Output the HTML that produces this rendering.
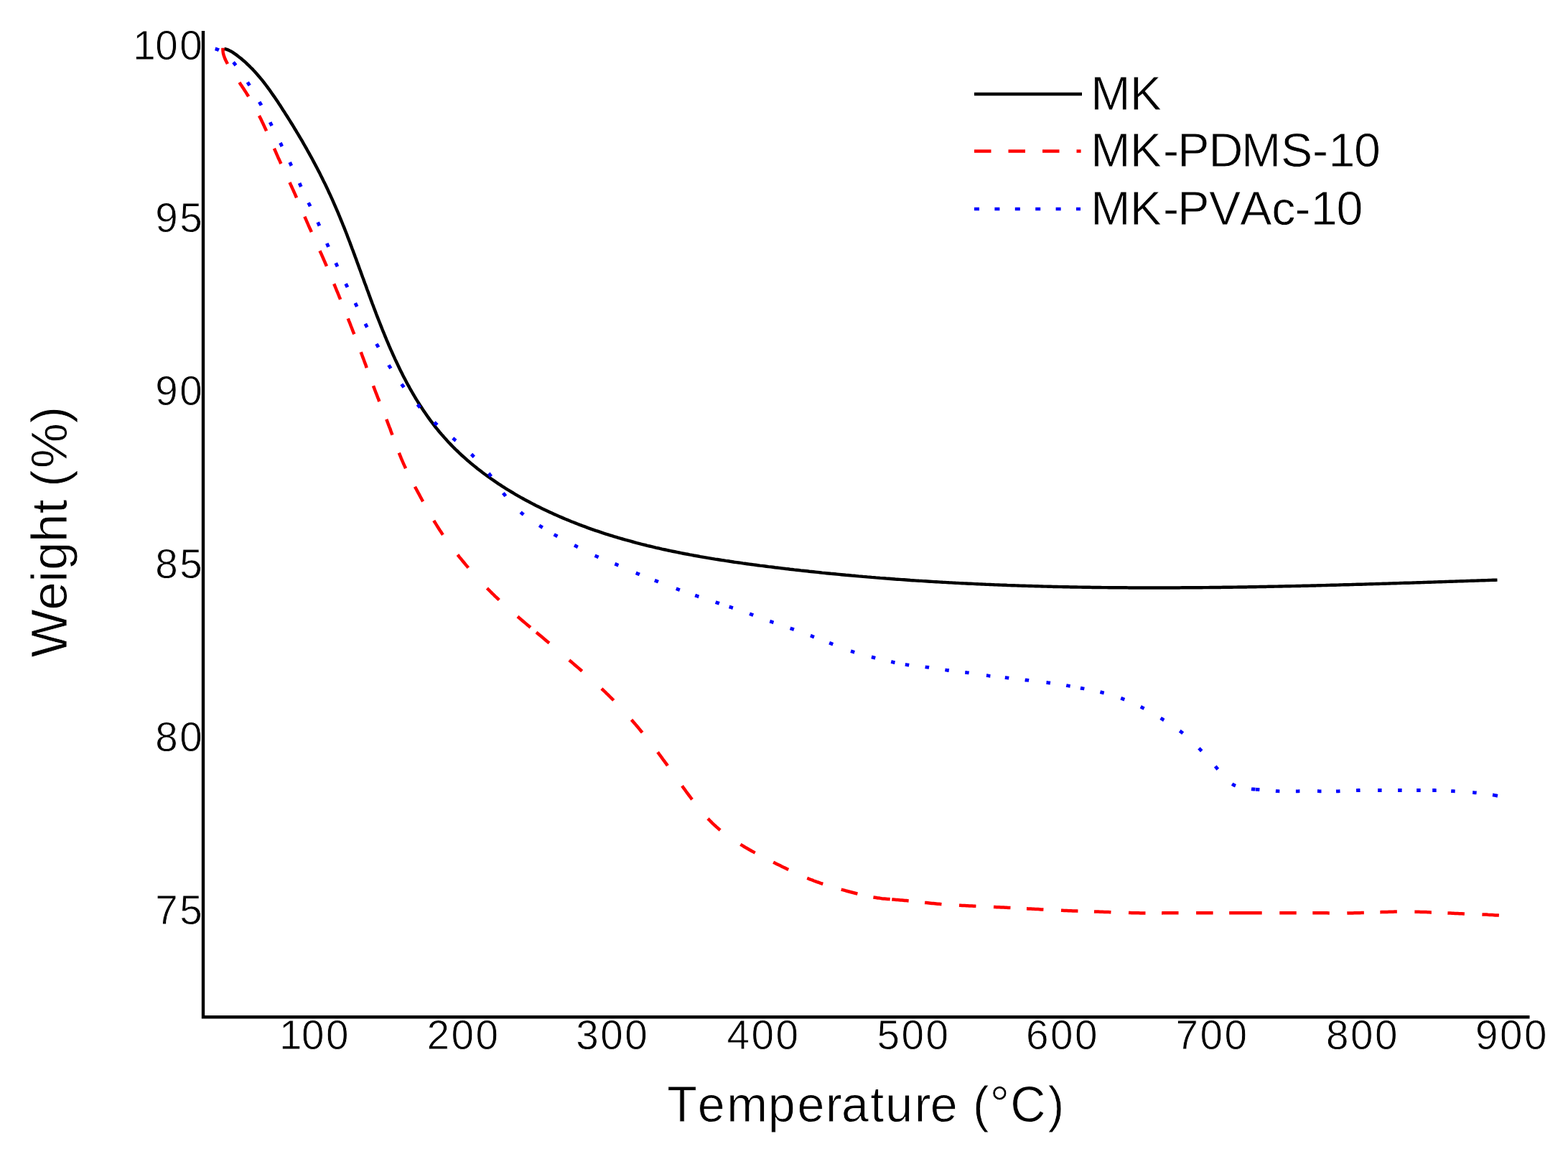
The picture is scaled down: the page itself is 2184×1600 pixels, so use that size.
<!DOCTYPE html>
<html><head><meta charset="utf-8"><title>TGA curves</title>
<style>html,body{margin:0;padding:0;background:#fff;overflow:hidden;}svg{display:block;}text{stroke:#fff;stroke-width:0.8px;}</style>
</head><body>
<svg width="2184" height="1600" viewBox="0 0 2184 1600">
<rect width="2184" height="1600" fill="#fff"/>
<path d="M283,43 V1416.2 H2130.5" fill="none" stroke="#000" stroke-width="4.4" stroke-linejoin="miter"/>
<path d="M312.3,67.8 315.2,68.6 318.1,69.7 320.8,71.0 323.4,72.4 325.9,74.1 328.4,75.8 330.8,77.6 333.1,79.5 335.5,81.3 337.8,83.3 340.1,85.2 342.3,87.2 344.5,89.3 346.7,91.4 348.8,93.5 351.0,95.6 353.0,97.8 355.1,100.0 357.1,102.2 359.1,104.5 361.0,106.8 363.0,109.1 364.9,111.4 366.7,113.7 368.6,116.1 370.4,118.5 372.2,120.9 374.0,123.3 375.8,125.8 377.5,128.2 379.2,130.7 380.9,133.1 382.6,135.6 384.3,138.1 386.0,140.6 387.7,143.1 389.3,145.6 391.0,148.1 392.6,150.7 394.2,153.2 395.9,155.7 397.5,158.3 399.1,160.8 400.7,163.3 402.3,165.9 403.9,168.4 405.5,171.0 407.1,173.5 408.7,176.1 410.2,178.7 411.8,181.2 413.3,183.8 414.9,186.4 416.4,189.0 418.0,191.6 419.5,194.1 421.0,196.7 422.5,199.3 424.0,202.0 425.5,204.6 427.0,207.2 428.4,209.8 429.9,212.4 431.4,215.1 432.8,217.7 434.3,220.3 435.7,223.0 437.1,225.6 438.5,228.3 439.9,230.9 441.3,233.6 442.7,236.3 444.1,238.9 445.5,241.6 446.8,244.3 448.2,247.0 449.5,249.7 450.8,252.4 452.2,255.1 453.5,257.8 454.8,260.5 456.1,263.2 457.3,265.9 458.6,268.7 459.9,271.4 461.1,274.1 462.4,276.9 463.6,279.6 464.8,282.3 466.0,285.1 467.2,287.9 468.4,290.6 469.6,293.4 470.8,296.1 471.9,298.9 473.1,301.7 474.2,304.5 475.4,307.3 476.5,310.0 477.6,312.8 478.8,315.6 479.9,318.4 481.0,321.2 482.1,324.0 483.2,326.8 484.2,329.6 485.3,332.4 486.4,335.2 487.5,338.0 488.5,340.9 489.6,343.7 490.6,346.5 491.7,349.3 492.7,352.1 493.8,354.9 494.8,357.8 495.9,360.6 496.9,363.4 497.9,366.2 499.0,369.1 500.0,371.9 501.0,374.7 502.1,377.5 503.1,380.4 504.1,383.2 505.1,386.0 506.2,388.8 507.2,391.7 508.2,394.5 509.3,397.3 510.3,400.1 511.3,403.0 512.4,405.8 513.4,408.6 514.4,411.4 515.5,414.2 516.5,417.1 517.6,419.9 518.6,422.7 519.7,425.5 520.7,428.3 521.8,431.1 522.9,434.0 523.9,436.8 525.0,439.6 526.1,442.4 527.2,445.2 528.3,448.0 529.4,450.8 530.5,453.6 531.6,456.4 532.7,459.2 533.8,461.9 535.0,464.7 536.1,467.5 537.3,470.3 538.4,473.1 539.6,475.8 540.8,478.6 541.9,481.4 543.1,484.1 544.3,486.9 545.6,489.6 546.8,492.4 548.0,495.1 549.3,497.9 550.5,500.6 551.8,503.3 553.1,506.0 554.4,508.7 555.7,511.5 557.0,514.2 558.3,516.9 559.7,519.5 561.0,522.2 562.4,524.9 563.8,527.6 565.2,530.2 566.6,532.9 568.0,535.5 569.5,538.2 570.9,540.8 572.4,543.4 573.9,546.0 575.4,548.6 576.9,551.2 578.5,553.8 580.0,556.4 581.6,558.9 583.2,561.5 584.8,564.0 586.5,566.5 588.1,569.0 589.8,571.6 591.5,574.0 593.2,576.5 594.9,579.0 596.6,581.4 598.4,583.9 600.2,586.3 602.0,588.7 603.8,591.1 605.7,593.5 607.5,595.8 609.4,598.2 611.3,600.5 613.2,602.8 615.2,605.1 617.2,607.3 619.2,609.6 621.2,611.8 623.2,614.1 625.2,616.3 627.3,618.4 629.4,620.6 631.5,622.7 633.6,624.9 635.8,627.0 638.0,629.0 640.1,631.1 642.3,633.2 644.6,635.2 646.8,637.2 649.0,639.2 651.3,641.2 653.6,643.1 655.9,645.1 658.2,647.0 660.5,648.9 662.9,650.8 665.2,652.7 667.6,654.5 670.0,656.3 672.4,658.2 674.8,660.0 677.2,661.7 679.6,663.5 682.1,665.3 684.5,667.0 687.0,668.7 689.5,670.4 692.0,672.1 694.5,673.8 697.0,675.4 699.5,677.1 702.0,678.7 704.6,680.3 707.1,681.9 709.7,683.4 712.3,685.0 714.9,686.5 717.4,688.1 720.0,689.6 722.7,691.1 725.3,692.6 727.9,694.0 730.5,695.5 733.2,696.9 735.8,698.3 738.5,699.7 741.1,701.1 743.8,702.5 746.5,703.9 749.2,705.2 751.9,706.6 754.6,707.9 757.3,709.2 760.0,710.5 762.7,711.8 765.4,713.1 768.2,714.3 770.9,715.6 773.6,716.8 776.4,718.0 779.1,719.2 781.9,720.4 784.7,721.6 787.4,722.8 790.2,723.9 793.0,725.0 795.8,726.2 798.6,727.3 801.4,728.4 804.2,729.5 807.0,730.6 809.8,731.6 812.6,732.7 815.4,733.7 818.3,734.8 821.1,735.8 823.9,736.8 826.8,737.8 829.6,738.8 832.4,739.7 835.3,740.7 838.1,741.6 841.0,742.6 843.9,743.5 846.7,744.4 849.6,745.3 852.5,746.2 855.3,747.1 858.2,747.9 861.1,748.8 864.0,749.7 866.9,750.5 869.8,751.3 872.7,752.1 875.6,752.9 878.5,753.7 881.4,754.5 884.3,755.3 887.2,756.1 890.1,756.8 893.0,757.6 895.9,758.3 898.8,759.0 901.7,759.8 904.7,760.5 907.6,761.2 910.5,761.9 913.4,762.6 916.4,763.2 919.3,763.9 922.2,764.6 925.2,765.2 928.1,765.8 931.1,766.5 934.0,767.1 936.9,767.7 939.9,768.3 942.8,768.9 945.8,769.5 948.7,770.1 951.7,770.7 954.6,771.3 957.6,771.8 960.5,772.4 963.5,772.9 966.4,773.5 969.4,774.0 972.4,774.5 975.3,775.1 978.3,775.6 981.3,776.1 984.2,776.6 987.2,777.1 990.1,777.6 993.1,778.1 996.1,778.6 999.1,779.0 1002.0,779.5 1005.0,780.0 1008.0,780.4 1010.9,780.9 1013.9,781.3 1016.9,781.8 1019.9,782.2 1022.8,782.7 1025.8,783.1 1028.8,783.5 1031.8,783.9 1034.7,784.4 1037.7,784.8 1040.7,785.2 1043.7,785.6 1046.7,786.0 1049.6,786.4 1052.6,786.8 1055.6,787.2 1058.6,787.6 1061.6,787.9 1064.5,788.3 1067.5,788.7 1070.5,789.1 1073.5,789.4 1076.5,789.8 1079.5,790.2 1082.4,790.5 1085.4,790.9 1088.4,791.3 1091.4,791.6 1094.4,792.0 1097.4,792.3 1100.4,792.7 1103.3,793.0 1106.3,793.4 1109.3,793.7 1112.3,794.0 1115.3,794.4 1118.3,794.7 1121.3,795.0 1124.3,795.3 1127.3,795.7 1130.2,796.0 1133.2,796.3 1136.2,796.6 1139.2,796.9 1142.2,797.2 1145.2,797.6 1148.2,797.9 1151.2,798.2 1154.2,798.5 1157.2,798.8 1160.2,799.0 1163.1,799.3 1166.1,799.6 1169.1,799.9 1172.1,800.2 1175.1,800.5 1178.1,800.8 1181.1,801.0 1184.1,801.3 1187.1,801.6 1190.1,801.8 1193.1,802.1 1196.1,802.4 1199.1,802.6 1202.1,802.9 1205.1,803.1 1208.1,803.4 1211.1,803.6 1214.1,803.9 1217.1,804.1 1220.1,804.4 1223.0,804.6 1226.0,804.9 1229.0,805.1 1232.0,805.3 1235.0,805.6 1238.0,805.8 1241.0,806.0 1244.0,806.2 1247.0,806.5 1250.0,806.7 1253.0,806.9 1256.0,807.1 1259.0,807.3 1262.0,807.5 1265.0,807.7 1268.0,808.0 1271.0,808.2 1274.0,808.4 1277.0,808.6 1280.0,808.8 1283.0,808.9 1286.0,809.1 1289.0,809.3 1292.0,809.5 1295.0,809.7 1298.0,809.9 1301.0,810.1 1304.0,810.2 1307.0,810.4 1310.0,810.6 1313.0,810.8 1316.0,810.9 1319.0,811.1 1322.0,811.3 1325.0,811.4 1328.1,811.6 1331.1,811.8 1334.1,811.9 1337.1,812.1 1340.1,812.2 1343.1,812.4 1346.1,812.5 1349.1,812.7 1352.1,812.8 1355.1,812.9 1358.1,813.1 1361.1,813.2 1364.1,813.4 1367.1,813.5 1370.1,813.6 1373.1,813.8 1376.1,813.9 1379.1,814.0 1382.1,814.1 1385.1,814.3 1388.1,814.4 1391.1,814.5 1394.1,814.6 1397.1,814.7 1400.1,814.8 1403.1,815.0 1406.2,815.1 1409.2,815.2 1412.2,815.3 1415.2,815.4 1418.2,815.5 1421.2,815.6 1424.2,815.7 1427.2,815.8 1430.2,815.9 1433.2,816.0 1436.2,816.0 1439.2,816.1 1442.2,816.2 1445.2,816.3 1448.2,816.4 1451.2,816.5 1454.2,816.6 1457.2,816.6 1460.2,816.7 1463.3,816.8 1466.3,816.9 1469.3,816.9 1472.3,817.0 1475.3,817.1 1478.3,817.1 1481.3,817.2 1484.3,817.2 1487.3,817.3 1490.3,817.4 1493.3,817.4 1496.3,817.5 1499.3,817.5 1502.3,817.6 1505.3,817.6 1508.3,817.7 1511.4,817.7 1514.4,817.8 1517.4,817.8 1520.4,817.9 1523.4,817.9 1526.4,817.9 1529.4,818.0 1532.4,818.0 1535.4,818.1 1538.4,818.1 1541.4,818.1 1544.4,818.2 1547.4,818.2 1550.4,818.2 1553.4,818.2 1556.4,818.3 1559.5,818.3 1562.5,818.3 1565.5,818.3 1568.5,818.3 1571.5,818.4 1574.5,818.4 1577.5,818.4 1580.5,818.4 1583.5,818.4 1586.5,818.4 1589.5,818.4 1592.5,818.4 1595.5,818.4 1598.5,818.5 1601.6,818.5 1604.6,818.5 1607.6,818.5 1610.6,818.5 1613.6,818.5 1616.6,818.5 1619.6,818.4 1622.6,818.4 1625.6,818.4 1628.6,818.4 1631.6,818.4 1634.6,818.4 1637.6,818.4 1640.6,818.4 1643.6,818.4 1646.7,818.3 1649.7,818.3 1652.7,818.3 1655.7,818.3 1658.7,818.3 1661.7,818.3 1664.7,818.2 1667.7,818.2 1670.7,818.2 1673.7,818.2 1676.7,818.1 1679.7,818.1 1682.7,818.1 1685.7,818.0 1688.7,818.0 1691.8,818.0 1694.8,817.9 1697.8,817.9 1700.8,817.9 1703.8,817.8 1706.8,817.8 1709.8,817.8 1712.8,817.7 1715.8,817.7 1718.8,817.6 1721.8,817.6 1724.8,817.5 1727.8,817.5 1730.8,817.4 1733.8,817.4 1736.8,817.4 1739.9,817.3 1742.9,817.3 1745.9,817.2 1748.9,817.2 1751.9,817.1 1754.9,817.0 1757.9,817.0 1760.9,816.9 1763.9,816.9 1766.9,816.8 1769.9,816.8 1772.9,816.7 1775.9,816.6 1778.9,816.6 1781.9,816.5 1784.9,816.5 1788.0,816.4 1791.0,816.3 1794.0,816.3 1797.0,816.2 1800.0,816.1 1803.0,816.1 1806.0,816.0 1809.0,815.9 1812.0,815.9 1815.0,815.8 1818.0,815.7 1821.0,815.7 1824.0,815.6 1827.0,815.5 1830.0,815.4 1833.0,815.4 1836.1,815.3 1839.1,815.2 1842.1,815.1 1845.1,815.1 1848.1,815.0 1851.1,814.9 1854.1,814.8 1857.1,814.7 1860.1,814.7 1863.1,814.6 1866.1,814.5 1869.1,814.4 1872.1,814.3 1875.1,814.3 1878.1,814.2 1881.1,814.1 1884.1,814.0 1887.1,813.9 1890.2,813.8 1893.2,813.7 1896.2,813.7 1899.2,813.6 1902.2,813.5 1905.2,813.4 1908.2,813.3 1911.2,813.2 1914.2,813.1 1917.2,813.0 1920.2,813.0 1923.2,812.9 1926.2,812.8 1929.2,812.7 1932.2,812.6 1935.2,812.5 1938.2,812.4 1941.2,812.3 1944.3,812.2 1947.3,812.1 1950.3,812.0 1953.3,811.9 1956.3,811.8 1959.3,811.8 1962.3,811.7 1965.3,811.6 1968.3,811.5 1971.3,811.4 1974.3,811.3 1977.3,811.2 1980.3,811.1 1983.3,811.0 1986.3,810.9 1989.3,810.8 1992.3,810.7 1995.3,810.6 1998.3,810.5 2001.3,810.4 2004.4,810.3 2007.4,810.2 2010.4,810.1 2013.4,810.0 2016.4,809.9 2019.4,809.8 2022.4,809.7 2025.4,809.6 2028.4,809.5 2031.4,809.4 2034.4,809.3 2037.4,809.2 2040.4,809.1 2043.4,809.0 2046.4,808.9 2049.4,808.8 2052.4,808.7 2055.4,808.6 2058.4,808.5 2061.5,808.4 2064.5,808.3 2067.5,808.2 2070.5,808.1 2073.5,808.0 2076.5,807.9 2079.5,807.8 2082.5,807.7 2085.5,807.6" fill="none" stroke="#000" stroke-width="4.45" stroke-linejoin="round"/>
<path d="M310.5,66.5 310.4,68.5 310.5,70.5 310.7,72.5 311.0,74.5 311.5,76.4 312.1,78.3 312.8,80.2 313.5,82.1 314.4,83.9 315.3,85.7 316.2,87.5 317.1,89.2 318.1,91.0 319.1,92.7 320.1,94.4 321.1,96.1 322.2,97.8 323.3,99.5 324.3,101.2 325.4,102.9 326.5,104.6 327.6,106.3 328.7,107.9 329.9,109.6 331.0,111.2 332.1,112.9 333.2,114.5 334.4,116.2 335.5,117.9 336.6,119.5 337.7,121.2 338.8,122.8 339.9,124.5 341.0,126.2 342.1,127.9 343.2,129.6 344.2,131.3 345.3,133.0 346.3,134.7 347.4,136.4 348.4,138.1 349.4,139.8 350.4,141.6 351.4,143.3 352.4,145.1 353.4,146.8 354.3,148.6 355.3,150.3 356.2,152.1 357.2,153.8 358.1,155.6 359.0,157.4 360.0,159.2 360.9,161.0 361.8,162.7 362.7,164.5 363.6,166.3 364.4,168.1 365.3,169.9 366.2,171.7 367.0,173.5 367.9,175.4 368.7,177.2 369.6,179.0 370.4,180.8 371.2,182.6 372.1,184.5 372.9,186.3 373.7,188.1 374.5,189.9 375.3,191.8 376.1,193.6 376.9,195.4 377.7,197.3 378.5,199.1 379.3,200.9 380.1,202.8 380.9,204.6 381.7,206.4 382.6,208.3 383.4,210.1 384.2,211.9 385.0,213.8 385.8,215.6 386.6,217.4 387.4,219.3 388.2,221.1 389.1,222.9 389.9,224.7 390.7,226.6 391.6,228.4 392.4,230.2 393.3,232.0 394.1,233.8 394.9,235.6 395.8,237.5 396.6,239.3 397.5,241.1 398.3,242.9 399.2,244.7 400.0,246.5 400.8,248.4 401.7,250.2 402.5,252.0 403.4,253.8 404.2,255.6 405.0,257.4 405.9,259.3 406.7,261.1 407.5,262.9 408.4,264.7 409.2,266.6 410.0,268.4 410.8,270.2 411.6,272.0 412.4,273.9 413.2,275.7 414.0,277.5 414.8,279.4 415.6,281.2 416.4,283.1 417.2,284.9 418.0,286.7 418.8,288.6 419.6,290.4 420.4,292.3 421.2,294.1 422.0,295.9 422.8,297.8 423.6,299.6 424.3,301.5 425.1,303.3 425.9,305.1 426.7,307.0 427.5,308.8 428.3,310.6 429.1,312.5 429.9,314.3 430.7,316.1 431.5,318.0 432.4,319.8 433.2,321.6 434.0,323.5 434.8,325.3 435.6,327.1 436.4,328.9 437.2,330.8 438.1,332.6 438.9,334.4 439.7,336.3 440.5,338.1 441.3,339.9 442.2,341.7 443.0,343.6 443.8,345.4 444.6,347.2 445.4,349.1 446.2,350.9 447.1,352.7 447.9,354.5 448.7,356.4 449.5,358.2 450.3,360.0 451.1,361.9 451.9,363.7 452.7,365.5 453.5,367.4 454.3,369.2 455.0,371.1 455.8,372.9 456.6,374.7 457.4,376.6 458.2,378.4 459.0,380.3 459.7,382.1 460.5,384.0 461.3,385.8 462.1,387.7 462.8,389.5 463.6,391.4 464.4,393.2 465.1,395.1 465.9,396.9 466.7,398.8 467.4,400.6 468.2,402.5 468.9,404.3 469.7,406.2 470.5,408.0 471.2,409.9 472.0,411.7 472.7,413.6 473.5,415.4 474.2,417.3 475.0,419.2 475.7,421.0 476.5,422.9 477.2,424.7 478.0,426.6 478.7,428.4 479.5,430.3 480.2,432.2 481.0,434.0 481.7,435.9 482.4,437.7 483.2,439.6 483.9,441.5 484.7,443.3 485.4,445.2 486.1,447.1 486.9,448.9 487.6,450.8 488.3,452.6 489.0,454.5 489.8,456.4 490.5,458.2 491.2,460.1 491.9,462.0 492.7,463.8 493.4,465.7 494.1,467.6 494.8,469.4 495.5,471.3 496.3,473.2 497.0,475.1 497.7,476.9 498.4,478.8 499.1,480.7 499.8,482.5 500.5,484.4 501.2,486.3 501.9,488.2 502.6,490.0 503.3,491.9 504.0,493.8 504.7,495.7 505.4,497.6 506.1,499.4 506.8,501.3 507.5,503.2 508.2,505.1 508.9,506.9 509.6,508.8 510.2,510.7 510.9,512.6 511.6,514.5 512.3,516.4 513.0,518.2 513.7,520.1 514.4,522.0 515.0,523.9 515.7,525.8 516.4,527.6 517.1,529.5 517.8,531.4 518.5,533.3 519.2,535.2 519.9,537.0 520.6,538.9 521.3,540.8 522.0,542.7 522.7,544.5 523.4,546.4 524.2,548.3 524.9,550.1 525.6,552.0 526.3,553.9 527.1,555.7 527.8,557.6 528.5,559.5 529.3,561.3 530.0,563.2 530.8,565.0 531.5,566.9 532.2,568.8 533.0,570.6 533.7,572.5 534.5,574.3 535.2,576.2 535.9,578.1 536.7,579.9 537.4,581.8 538.1,583.6 538.9,585.5 539.6,587.4 540.3,589.2 541.0,591.1 541.7,593.0 542.4,594.9 543.2,596.7 543.9,598.6 544.5,600.5 545.2,602.4 545.9,604.2 546.6,606.1 547.3,608.0 548.0,609.9 548.7,611.8 549.4,613.6 550.1,615.5 550.8,617.4 551.5,619.3 552.2,621.2 552.9,623.0 553.6,624.9 554.3,626.8 555.0,628.6 555.7,630.5 556.5,632.4 557.2,634.2 558.0,636.1 558.7,637.9 559.5,639.8 560.3,641.6 561.1,643.5 561.9,645.3 562.7,647.1 563.5,648.9 564.4,650.8 565.2,652.6 566.1,654.4 567.0,656.2 567.8,658.0 568.7,659.8 569.6,661.6 570.5,663.4 571.4,665.2 572.3,666.9 573.2,668.7 574.1,670.5 575.1,672.3 576.0,674.0 576.9,675.8 577.9,677.6 578.8,679.4 579.8,681.1 580.7,682.9 581.7,684.7 582.6,686.4 583.6,688.2 584.5,689.9 585.5,691.7 586.4,693.5 587.4,695.2 588.3,697.0 589.3,698.7 590.3,700.5 591.2,702.2 592.2,704.0 593.2,705.7 594.1,707.5 595.1,709.2 596.1,711.0 597.1,712.7 598.1,714.5 599.1,716.2 600.1,717.9 601.1,719.6 602.1,721.4 603.2,723.1 604.2,724.8 605.2,726.5 606.3,728.2 607.3,729.9 608.4,731.6 609.4,733.3 610.5,735.0 611.6,736.7 612.7,738.4 613.8,740.0 614.9,741.7 616.0,743.4 617.1,745.0 618.3,746.7 619.4,748.3 620.6,750.0 621.7,751.6 622.9,753.2 624.1,754.9 625.2,756.5 626.4,758.1 627.6,759.7 628.8,761.3 630.0,762.9 631.2,764.5 632.4,766.1 633.6,767.7 634.9,769.3 636.1,770.9 637.3,772.4 638.6,774.0 639.8,775.6 641.1,777.1 642.4,778.7 643.6,780.2 644.9,781.8 646.2,783.3 647.5,784.9 648.7,786.4 650.0,787.9 651.3,789.4 652.6,791.0 653.9,792.5 655.3,794.0 656.6,795.5 657.9,797.0 659.2,798.5 660.6,800.0 661.9,801.5 663.2,803.0 664.6,804.5 665.9,805.9 667.3,807.4 668.7,808.9 670.0,810.3 671.4,811.8 672.8,813.2 674.2,814.7 675.5,816.1 676.9,817.6 678.3,819.0 679.7,820.4 681.2,821.8 682.6,823.3 684.0,824.7 685.4,826.1 686.8,827.5 688.3,828.9 689.7,830.3 691.2,831.7 692.6,833.0 694.1,834.4 695.5,835.8 697.0,837.2 698.5,838.5 699.9,839.9 701.4,841.2 702.9,842.6 704.4,843.9 705.9,845.3 707.3,846.6 708.8,847.9 710.3,849.3 711.8,850.6 713.3,851.9 714.8,853.2 716.4,854.5 717.9,855.9 719.4,857.2 720.9,858.5 722.4,859.8 723.9,861.1 725.5,862.4 727.0,863.7 728.5,865.0 730.0,866.3 731.6,867.6 733.1,868.9 734.6,870.2 736.2,871.4 737.7,872.7 739.2,874.0 740.8,875.3 742.3,876.6 743.8,877.9 745.4,879.1 746.9,880.4 748.5,881.7 750.0,883.0 751.5,884.3 753.1,885.6 754.6,886.8 756.1,888.1 757.7,889.4 759.2,890.7 760.7,892.0 762.3,893.3 763.8,894.6 765.3,895.8 766.9,897.1 768.4,898.4 769.9,899.7 771.5,901.0 773.0,902.3 774.5,903.6 776.1,904.9 777.6,906.2 779.1,907.5 780.6,908.8 782.2,910.1 783.7,911.4 785.2,912.7 786.7,914.0 788.2,915.3 789.8,916.6 791.3,917.9 792.8,919.2 794.3,920.5 795.9,921.8 797.4,923.1 798.9,924.4 800.4,925.7 801.9,927.0 803.4,928.3 805.0,929.6 806.5,930.9 808.0,932.2 809.5,933.5 811.0,934.9 812.5,936.2 814.0,937.5 815.6,938.8 817.1,940.1 818.6,941.4 820.1,942.8 821.6,944.1 823.1,945.4 824.6,946.7 826.1,948.1 827.5,949.4 829.0,950.8 830.5,952.1 832.0,953.4 833.5,954.8 834.9,956.2 836.4,957.5 837.9,958.9 839.3,960.3 840.8,961.6 842.2,963.0 843.7,964.4 845.1,965.8 846.6,967.2 848.0,968.6 849.4,970.0 850.8,971.4 852.3,972.8 853.7,974.2 855.1,975.7 856.5,977.1 857.9,978.5 859.3,980.0 860.6,981.4 862.0,982.9 863.4,984.3 864.8,985.8 866.1,987.3 867.5,988.7 868.8,990.2 870.2,991.7 871.5,993.2 872.9,994.7 874.2,996.2 875.5,997.7 876.8,999.2 878.2,1000.7 879.5,1002.2 880.8,1003.7 882.1,1005.2 883.4,1006.7 884.7,1008.2 886.0,1009.8 887.3,1011.3 888.6,1012.8 889.9,1014.4 891.1,1015.9 892.4,1017.5 893.7,1019.0 895.0,1020.6 896.2,1022.1 897.5,1023.7 898.7,1025.2 900.0,1026.8 901.2,1028.3 902.5,1029.9 903.7,1031.5 905.0,1033.1 906.2,1034.6 907.4,1036.2 908.7,1037.8 909.9,1039.4 911.1,1041.0 912.3,1042.6 913.5,1044.1 914.8,1045.7 916.0,1047.3 917.2,1048.9 918.4,1050.5 919.6,1052.1 920.8,1053.7 922.0,1055.4 923.1,1057.0 924.3,1058.6 925.5,1060.2 926.7,1061.8 927.9,1063.4 929.1,1065.1 930.2,1066.7 931.4,1068.3 932.6,1069.9 933.7,1071.6 934.9,1073.2 936.1,1074.8 937.2,1076.4 938.4,1078.1 939.6,1079.7 940.7,1081.3 941.9,1083.0 943.1,1084.6 944.2,1086.2 945.4,1087.8 946.5,1089.5 947.7,1091.1 948.9,1092.7 950.1,1094.3 951.2,1096.0 952.4,1097.6 953.6,1099.2 954.7,1100.8 955.9,1102.5 957.1,1104.1 958.3,1105.7 959.5,1107.3 960.7,1108.9 961.9,1110.5 963.1,1112.1 964.3,1113.7 965.5,1115.3 966.7,1116.9 967.9,1118.5 969.1,1120.1 970.4,1121.6 971.6,1123.2 972.9,1124.8 974.1,1126.3 975.4,1127.9 976.7,1129.4 978.0,1130.9 979.3,1132.5 980.6,1134.0 982.0,1135.5 983.3,1136.9 984.6,1138.4 986.0,1139.9 987.4,1141.3 988.8,1142.8 990.2,1144.2 991.6,1145.6 993.1,1147.0 994.5,1148.4 996.0,1149.7 997.5,1151.1 999.0,1152.4 1000.5,1153.7 1002.0,1155.0 1003.6,1156.3 1005.1,1157.5 1006.7,1158.8 1008.3,1160.0 1009.9,1161.2 1011.5,1162.4 1013.1,1163.6 1014.7,1164.8 1016.3,1166.0 1018.0,1167.1 1019.6,1168.2 1021.3,1169.4 1022.9,1170.5 1024.6,1171.6 1026.3,1172.7 1028.0,1173.7 1029.7,1174.8 1031.4,1175.9 1033.1,1176.9 1034.8,1177.9 1036.5,1179.0 1038.2,1180.0 1040.0,1181.0 1041.7,1182.0 1043.4,1183.0 1045.2,1184.0 1046.9,1185.0 1048.7,1185.9 1050.4,1186.9 1052.2,1187.9 1053.9,1188.8 1055.7,1189.7 1057.5,1190.7 1059.3,1191.6 1061.0,1192.5 1062.8,1193.5 1064.6,1194.4 1066.4,1195.3 1068.1,1196.2 1069.9,1197.1 1071.7,1198.0 1073.5,1198.9 1075.3,1199.8 1077.1,1200.7 1078.9,1201.6 1080.7,1202.5 1082.5,1203.4 1084.3,1204.2 1086.1,1205.1 1087.9,1206.0 1089.7,1206.9 1091.5,1207.8 1093.3,1208.6 1095.1,1209.5 1096.9,1210.4 1098.7,1211.2 1100.5,1212.1 1102.3,1213.0 1104.1,1213.8 1105.9,1214.7 1107.8,1215.5 1109.6,1216.3 1111.4,1217.2 1113.2,1218.0 1115.0,1218.8 1116.9,1219.6 1118.7,1220.4 1120.6,1221.2 1122.4,1222.0 1124.2,1222.8 1126.1,1223.5 1127.9,1224.3 1129.8,1225.0 1131.7,1225.7 1133.5,1226.5 1135.4,1227.2 1137.3,1227.9 1139.2,1228.5 1141.1,1229.2 1143.0,1229.9 1144.9,1230.5 1146.8,1231.1 1148.7,1231.8 1150.6,1232.4 1152.5,1233.0 1154.4,1233.6 1156.3,1234.2 1158.2,1234.7 1160.1,1235.3 1162.1,1235.9 1164.0,1236.4 1165.9,1237.0 1167.8,1237.5 1169.8,1238.1 1171.7,1238.6 1173.6,1239.1 1175.6,1239.6 1177.5,1240.2 1179.4,1240.7 1181.4,1241.2 1183.3,1241.7 1185.2,1242.2 1187.2,1242.7 1189.1,1243.2 1191.0,1243.7 1193.0,1244.2 1194.9,1244.7 1196.9,1245.2 1198.8,1245.7 1200.8,1246.1 1202.7,1246.6 1204.7,1247.0 1206.6,1247.4 1208.6,1247.9 1210.5,1248.3 1212.5,1248.6 1214.5,1249.0 1216.4,1249.4 1218.4,1249.7 1220.4,1250.0 1222.4,1250.4 1224.4,1250.6 1226.3,1250.9 1228.3,1251.2 1230.3,1251.4 1232.3,1251.6 1234.3,1251.8 1236.3,1252.0 1238.3,1252.1 1240.3,1252.3 1242.3,1252.5 1244.3,1252.6 1246.3,1252.7 1248.3,1252.9 1250.3,1253.0 1252.3,1253.2 1254.3,1253.4 1256.3,1253.5 1258.3,1253.7 1260.2,1253.9 1262.2,1254.1 1264.2,1254.3 1266.2,1254.5 1268.2,1254.7 1270.2,1254.9 1272.2,1255.1 1274.2,1255.3 1276.2,1255.5 1278.2,1255.8 1280.2,1256.0 1282.1,1256.2 1284.1,1256.4 1286.1,1256.7 1288.1,1256.9 1290.1,1257.1 1292.1,1257.3 1294.1,1257.5 1296.1,1257.7 1298.1,1257.9 1300.1,1258.1 1302.1,1258.3 1304.1,1258.5 1306.1,1258.7 1308.0,1258.8 1310.0,1259.0 1312.0,1259.2 1314.0,1259.3 1316.0,1259.5 1318.0,1259.6 1320.0,1259.7 1322.0,1259.9 1324.0,1260.0 1326.0,1260.1 1328.0,1260.3 1330.0,1260.4 1332.0,1260.5 1334.0,1260.6 1336.0,1260.7 1338.0,1260.8 1340.0,1260.9 1342.0,1261.0 1344.0,1261.1 1346.0,1261.2 1348.0,1261.3 1350.0,1261.4 1352.0,1261.5 1354.0,1261.6 1356.0,1261.7 1358.0,1261.8 1360.0,1261.9 1362.0,1262.0 1364.0,1262.1 1366.0,1262.2 1368.0,1262.3 1370.0,1262.3 1372.0,1262.4 1374.0,1262.5 1376.0,1262.6 1378.0,1262.7 1380.0,1262.8 1382.0,1262.9 1384.0,1263.0 1386.0,1263.1 1388.0,1263.2 1390.0,1263.2 1392.0,1263.3 1394.0,1263.4 1396.0,1263.5 1398.0,1263.6 1400.0,1263.7 1402.0,1263.8 1404.0,1263.9 1406.0,1264.0 1408.0,1264.1 1410.0,1264.2 1412.0,1264.3 1414.0,1264.4 1416.0,1264.5 1418.0,1264.6 1420.0,1264.8 1422.0,1264.9 1424.0,1265.0 1426.0,1265.1 1428.0,1265.2 1430.0,1265.3 1432.0,1265.4 1434.0,1265.5 1436.0,1265.6 1438.0,1265.7 1440.0,1265.8 1442.0,1265.9 1444.0,1266.0 1446.0,1266.1 1448.0,1266.2 1450.0,1266.4 1452.0,1266.5 1454.0,1266.6 1456.0,1266.7 1458.0,1266.8 1460.0,1266.9 1462.0,1267.0 1464.0,1267.1 1466.0,1267.2 1468.0,1267.3 1470.0,1267.4 1472.0,1267.5 1474.0,1267.5 1476.0,1267.6 1478.0,1267.7 1480.0,1267.8 1482.0,1267.9 1484.0,1268.0 1486.0,1268.1 1488.0,1268.2 1490.0,1268.2 1492.0,1268.3 1494.0,1268.4 1496.0,1268.5 1498.0,1268.5 1500.0,1268.6 1502.0,1268.7 1504.0,1268.7 1506.0,1268.8 1508.0,1268.9 1510.0,1269.0 1512.0,1269.0 1514.0,1269.1 1516.0,1269.1 1518.0,1269.2 1520.0,1269.3 1522.0,1269.3 1524.0,1269.4 1526.0,1269.5 1528.0,1269.5 1530.0,1269.6 1532.0,1269.7 1534.0,1269.8 1536.0,1269.8 1538.0,1269.9 1540.0,1270.0 1542.0,1270.0 1544.0,1270.1 1546.0,1270.2 1548.0,1270.3 1550.0,1270.3 1552.0,1270.4 1554.0,1270.5 1556.0,1270.6 1558.0,1270.6 1560.0,1270.7 1562.0,1270.8 1564.0,1270.8 1566.0,1270.9 1568.1,1270.9 1570.1,1271.0 1572.1,1271.1 1574.1,1271.1 1576.1,1271.2 1578.1,1271.2 1580.1,1271.2 1582.1,1271.3 1584.1,1271.3 1586.1,1271.3 1588.1,1271.4 1590.1,1271.4 1592.1,1271.4 1594.1,1271.4 1596.1,1271.4 1598.1,1271.4 1600.1,1271.4 1602.1,1271.4 1604.1,1271.4 1606.1,1271.4 1608.1,1271.4 1610.1,1271.4 1612.1,1271.4 1614.1,1271.4 1616.1,1271.4 1618.1,1271.4 1620.1,1271.3 1622.1,1271.3 1624.1,1271.3 1626.1,1271.3 1628.1,1271.3 1630.1,1271.3 1632.1,1271.3 1634.1,1271.3 1636.1,1271.3 1638.1,1271.3 1640.1,1271.3 1642.1,1271.3 1644.1,1271.3 1646.1,1271.3 1648.1,1271.3 1650.1,1271.3 1652.1,1271.3 1654.1,1271.3 1656.1,1271.3 1658.2,1271.3 1660.2,1271.3 1662.2,1271.3 1664.2,1271.3 1666.2,1271.3 1668.2,1271.3 1670.2,1271.3 1672.2,1271.3 1674.2,1271.3 1676.2,1271.3 1678.2,1271.3 1680.2,1271.3 1682.2,1271.3 1684.2,1271.3 1686.2,1271.3 1688.2,1271.3 1690.2,1271.3 1692.2,1271.3 1694.2,1271.3 1696.2,1271.3 1698.2,1271.3 1700.2,1271.3 1702.2,1271.3 1704.2,1271.3 1706.2,1271.3 1708.2,1271.3 1710.2,1271.3 1712.2,1271.3 1714.2,1271.3 1716.2,1271.3 1718.2,1271.3 1720.2,1271.3 1722.2,1271.3 1724.2,1271.3 1726.2,1271.3 1728.2,1271.3 1730.2,1271.3 1732.2,1271.3 1734.2,1271.3 1736.2,1271.3 1738.2,1271.3 1740.2,1271.3 1742.2,1271.3 1744.2,1271.3 1746.3,1271.3 1748.3,1271.3 1750.3,1271.3 1752.3,1271.3 1754.3,1271.3 1756.3,1271.3 1758.3,1271.3 1760.3,1271.3 1762.3,1271.3 1764.3,1271.3 1766.3,1271.3 1768.3,1271.3 1770.3,1271.3 1772.3,1271.3 1774.3,1271.3 1776.3,1271.3 1778.3,1271.3 1780.3,1271.3 1782.3,1271.3 1784.3,1271.3 1786.3,1271.3 1788.3,1271.3 1790.3,1271.3 1792.3,1271.3 1794.3,1271.3 1796.3,1271.3 1798.3,1271.3 1800.3,1271.3 1802.3,1271.3 1804.3,1271.3 1806.3,1271.3 1808.3,1271.3 1810.3,1271.3 1812.3,1271.3 1814.3,1271.3 1816.3,1271.3 1818.3,1271.3 1820.3,1271.3 1822.3,1271.3 1824.3,1271.3 1826.3,1271.3 1828.3,1271.3 1830.3,1271.3 1832.4,1271.3 1834.4,1271.3 1836.4,1271.3 1838.4,1271.3 1840.4,1271.3 1842.4,1271.3 1844.4,1271.3 1846.4,1271.3 1848.4,1271.3 1850.4,1271.4 1852.4,1271.4 1854.4,1271.4 1856.4,1271.4 1858.4,1271.4 1860.4,1271.4 1862.4,1271.4 1864.4,1271.5 1866.4,1271.5 1868.4,1271.5 1870.4,1271.5 1872.4,1271.5 1874.4,1271.5 1876.4,1271.4 1878.4,1271.4 1880.4,1271.4 1882.4,1271.4 1884.4,1271.4 1886.4,1271.3 1888.4,1271.3 1890.4,1271.3 1892.4,1271.2 1894.4,1271.2 1896.4,1271.1 1898.4,1271.0 1900.4,1271.0 1902.4,1270.9 1904.4,1270.8 1906.4,1270.8 1908.4,1270.7 1910.4,1270.6 1912.4,1270.5 1914.4,1270.5 1916.4,1270.4 1918.4,1270.3 1920.4,1270.2 1922.4,1270.2 1924.4,1270.1 1926.4,1270.0 1928.4,1270.0 1930.4,1269.9 1932.4,1269.9 1934.4,1269.8 1936.4,1269.8 1938.4,1269.7 1940.4,1269.7 1942.5,1269.6 1944.5,1269.6 1946.5,1269.6 1948.5,1269.6 1950.5,1269.6 1952.5,1269.6 1954.5,1269.5 1956.5,1269.5 1958.5,1269.6 1960.5,1269.6 1962.5,1269.6 1964.5,1269.6 1966.5,1269.6 1968.5,1269.7 1970.5,1269.7 1972.5,1269.7 1974.5,1269.8 1976.5,1269.8 1978.5,1269.9 1980.5,1269.9 1982.5,1270.0 1984.5,1270.0 1986.5,1270.1 1988.5,1270.2 1990.5,1270.3 1992.5,1270.4 1994.5,1270.4 1996.5,1270.5 1998.5,1270.6 2000.5,1270.7 2002.5,1270.8 2004.5,1270.9 2006.5,1271.0 2008.5,1271.1 2010.5,1271.2 2012.5,1271.3 2014.5,1271.4 2016.5,1271.5 2018.5,1271.6 2020.5,1271.6 2022.5,1271.7 2024.5,1271.8 2026.5,1271.9 2028.5,1272.0 2030.5,1272.1 2032.5,1272.2 2034.5,1272.2 2036.5,1272.3 2038.5,1272.4 2040.5,1272.5 2042.5,1272.5 2044.5,1272.6 2046.5,1272.7 2048.5,1272.7 2050.5,1272.8 2052.5,1272.9 2054.5,1273.0 2056.5,1273.0 2058.5,1273.1 2060.5,1273.2 2062.5,1273.3 2064.5,1273.4 2066.5,1273.5 2068.5,1273.6 2070.5,1273.6 2072.5,1273.8 2074.5,1273.9 2076.5,1274.0 2078.5,1274.1 2080.5,1274.2 2082.5,1274.4 2084.5,1274.5 2086.5,1274.6 2088.5,1274.8" fill="none" stroke="#ff0000" stroke-width="4.5" stroke-dasharray="0.00,0.26,23.50,30.56,23.50,30.56,23.50,26.56,23.50,28.56,23.50,28.56,23.50,28.56,23.50,26.56,23.50,28.56,23.50,26.56,23.50,26.56,23.50,26.56,23.50,26.56,23.50,28.56,23.50,30.56,23.50,34.57,23.50,38.57,23.50,34.57,23.50,10.54,23.50,36.57,23.50,36.57,23.50,36.57,23.50,34.57,23.50,34.57,23.50,34.57,23.50,34.57,23.50,28.56,23.50,28.56,23.50,26.56,23.50,22.55,23.50,2.53,23.50,22.55,23.50,24.56,23.50,24.56,23.50,22.55,23.50,24.56,23.50,22.55,23.50,24.56,23.50,22.55,23.50,24.56,23.50,22.55,23.50,0.00,22.03,24.56,23.50,22.55,23.50,24.56,23.50,22.55,23.50,24.56,23.50,22.55,23.50,24.56,23.50,10000.00"/>
<path d="M298.5,67.6 300.4,68.1 302.4,68.7 304.2,69.4 306.0,70.3 307.8,71.2 309.5,72.2 311.2,73.3 312.8,74.5 314.4,75.8 315.9,77.1 317.4,78.4 318.8,79.8 320.2,81.2 321.6,82.7 322.9,84.2 324.2,85.7 325.5,87.2 326.8,88.8 328.0,90.4 329.3,91.9 330.5,93.5 331.7,95.1 332.9,96.8 334.0,98.4 335.2,100.0 336.3,101.7 337.5,103.3 338.6,105.0 339.7,106.6 340.8,108.3 341.9,110.0 343.0,111.7 344.1,113.4 345.1,115.0 346.2,116.7 347.3,118.4 348.3,120.1 349.4,121.8 350.4,123.5 351.5,125.3 352.5,127.0 353.6,128.7 354.6,130.4 355.6,132.1 356.6,133.9 357.6,135.6 358.6,137.3 359.6,139.1 360.6,140.8 361.6,142.5 362.6,144.3 363.6,146.0 364.5,147.8 365.5,149.6 366.4,151.3 367.4,153.1 368.3,154.9 369.2,156.6 370.1,158.4 371.1,160.2 372.0,162.0 372.9,163.8 373.8,165.6 374.7,167.3 375.6,169.1 376.5,170.9 377.4,172.7 378.3,174.5 379.2,176.3 380.1,178.1 381.0,179.9 381.9,181.7 382.8,183.5 383.7,185.3 384.6,187.1 385.4,188.8 386.3,190.6 387.2,192.4 388.1,194.2 389.0,196.0 389.9,197.8 390.8,199.6 391.7,201.4 392.5,203.2 393.4,205.0 394.3,206.8 395.2,208.6 396.1,210.4 397.0,212.2 397.8,214.0 398.7,215.8 399.6,217.6 400.5,219.4 401.3,221.2 402.2,223.0 403.1,224.8 403.9,226.6 404.8,228.4 405.6,230.3 406.5,232.1 407.3,233.9 408.2,235.7 409.0,237.5 409.9,239.3 410.7,241.1 411.6,243.0 412.4,244.8 413.2,246.6 414.1,248.4 414.9,250.2 415.7,252.1 416.6,253.9 417.4,255.7 418.2,257.5 419.1,259.4 419.9,261.2 420.7,263.0 421.6,264.8 422.4,266.6 423.3,268.5 424.1,270.3 424.9,272.1 425.8,273.9 426.6,275.7 427.5,277.5 428.3,279.4 429.2,281.2 430.0,283.0 430.9,284.8 431.8,286.6 432.6,288.4 433.5,290.2 434.4,292.0 435.2,293.8 436.1,295.6 437.0,297.4 437.8,299.2 438.7,301.0 439.5,302.9 440.4,304.7 441.2,306.5 442.1,308.3 442.9,310.1 443.8,311.9 444.6,313.8 445.4,315.6 446.2,317.4 447.0,319.3 447.8,321.1 448.6,323.0 449.3,324.8 450.1,326.7 450.9,328.5 451.7,330.3 452.5,332.2 453.2,334.0 454.0,335.9 454.8,337.7 455.6,339.6 456.4,341.4 457.2,343.2 458.0,345.1 458.8,346.9 459.6,348.7 460.5,350.6 461.3,352.4 462.1,354.2 462.9,356.0 463.8,357.8 464.6,359.7 465.5,361.5 466.3,363.3 467.2,365.1 468.0,366.9 468.9,368.7 469.7,370.5 470.6,372.4 471.4,374.2 472.3,376.0 473.2,377.8 474.0,379.6 474.9,381.4 475.8,383.2 476.6,385.0 477.5,386.8 478.4,388.6 479.3,390.4 480.2,392.2 481.0,394.0 481.9,395.8 482.8,397.6 483.7,399.4 484.6,401.2 485.5,403.0 486.3,404.8 487.2,406.6 488.1,408.4 489.0,410.2 489.9,412.0 490.8,413.8 491.7,415.6 492.5,417.4 493.4,419.2 494.3,421.0 495.2,422.8 496.0,424.6 496.9,426.4 497.8,428.2 498.6,430.0 499.5,431.8 500.4,433.6 501.2,435.4 502.1,437.2 503.0,439.0 503.8,440.8 504.7,442.6 505.6,444.4 506.5,446.2 507.4,448.0 508.3,449.8 509.2,451.6 510.1,453.4 511.0,455.1 512.0,456.9 512.9,458.7 513.9,460.4 514.9,462.2 515.8,463.9 516.8,465.7 517.8,467.4 518.8,469.2 519.8,470.9 520.8,472.6 521.8,474.4 522.8,476.1 523.8,477.9 524.8,479.6 525.8,481.3 526.8,483.1 527.7,484.8 528.7,486.6 529.7,488.3 530.7,490.1 531.7,491.8 532.7,493.5 533.7,495.3 534.7,497.0 535.7,498.7 536.7,500.5 537.7,502.2 538.7,503.9 539.7,505.6 540.8,507.4 541.8,509.1 542.9,510.8 544.0,512.5 545.0,514.2 546.1,515.8 547.2,517.5 548.3,519.2 549.4,520.8 550.6,522.5 551.7,524.2 552.8,525.8 554.0,527.4 555.1,529.1 556.3,530.7 557.5,532.3 558.7,534.0 559.8,535.6 561.0,537.2 562.2,538.8 563.4,540.4 564.6,542.0 565.8,543.6 567.0,545.2 568.2,546.8 569.5,548.4 570.7,550.0 571.9,551.5 573.2,553.1 574.4,554.7 575.7,556.2 577.0,557.8 578.2,559.3 579.5,560.9 580.8,562.4 582.1,563.9 583.4,565.4 584.7,567.0 586.0,568.5 587.4,570.0 588.7,571.5 590.1,572.9 591.4,574.4 592.8,575.9 594.2,577.3 595.5,578.8 596.9,580.2 598.3,581.6 599.8,583.0 601.2,584.5 602.6,585.8 604.1,587.2 605.5,588.6 607.0,590.0 608.5,591.3 610.0,592.7 611.5,594.0 613.0,595.3 614.5,596.6 616.0,597.9 617.6,599.2 619.1,600.5 620.6,601.8 622.2,603.1 623.7,604.3 625.2,605.6 626.8,606.9 628.3,608.2 629.9,609.4 631.4,610.7 633.0,612.0 634.5,613.3 636.1,614.5 637.6,615.8 639.1,617.1 640.7,618.4 642.2,619.7 643.7,621.0 645.2,622.3 646.7,623.7 648.2,625.0 649.7,626.3 651.2,627.7 652.7,629.0 654.2,630.4 655.6,631.7 657.1,633.1 658.5,634.5 659.9,635.9 661.4,637.3 662.8,638.8 664.2,640.2 665.5,641.6 666.9,643.1 668.3,644.6 669.6,646.0 671.0,647.5 672.3,649.0 673.6,650.5 674.9,652.1 676.2,653.6 677.5,655.1 678.8,656.7 680.0,658.3 681.3,659.8 682.5,661.4 683.7,663.0 684.9,664.6 686.1,666.2 687.3,667.8 688.5,669.4 689.6,671.1 690.8,672.7 692.0,674.3 693.2,675.9 694.3,677.6 695.5,679.2 696.7,680.8 697.9,682.4 699.0,684.0 700.2,685.6 701.4,687.2 702.7,688.8 703.9,690.4 705.1,692.0 706.4,693.5 707.7,695.1 709.0,696.6 710.3,698.1 711.6,699.6 712.9,701.1 714.3,702.6 715.7,704.1 717.0,705.5 718.4,706.9 719.9,708.3 721.3,709.7 722.8,711.1 724.3,712.4 725.8,713.8 727.3,715.1 728.9,716.3 730.4,717.6 732.0,718.8 733.6,720.0 735.2,721.2 736.9,722.4 738.5,723.5 740.1,724.6 741.8,725.8 743.5,726.9 745.2,728.0 746.8,729.0 748.5,730.1 750.2,731.2 751.9,732.3 753.6,733.3 755.3,734.4 757.0,735.4 758.7,736.5 760.4,737.5 762.1,738.6 763.9,739.6 765.6,740.6 767.3,741.7 769.0,742.7 770.8,743.7 772.5,744.7 774.2,745.7 776.0,746.7 777.7,747.6 779.5,748.6 781.3,749.5 783.0,750.5 784.8,751.4 786.6,752.4 788.3,753.3 790.1,754.2 791.9,755.2 793.7,756.1 795.4,757.0 797.2,757.9 799.0,758.8 800.8,759.7 802.6,760.7 804.3,761.6 806.1,762.5 807.9,763.4 809.7,764.4 811.5,765.3 813.2,766.2 815.0,767.1 816.8,768.0 818.6,768.9 820.4,769.8 822.2,770.7 824.0,771.6 825.8,772.4 827.6,773.3 829.4,774.1 831.3,774.9 833.1,775.7 834.9,776.5 836.8,777.3 838.6,778.1 840.5,778.8 842.3,779.6 844.2,780.3 846.1,781.1 847.9,781.8 849.8,782.5 851.6,783.3 853.5,784.0 855.4,784.8 857.2,785.5 859.1,786.3 860.9,787.1 862.8,787.8 864.6,788.6 866.5,789.4 868.3,790.2 870.1,791.0 872.0,791.8 873.8,792.6 875.6,793.4 877.5,794.2 879.3,795.0 881.1,795.8 883.0,796.6 884.8,797.4 886.7,798.2 888.5,799.0 890.4,799.7 892.2,800.5 894.1,801.2 895.9,802.0 897.8,802.7 899.7,803.5 901.5,804.2 903.4,804.9 905.3,805.6 907.1,806.3 909.0,807.1 910.9,807.8 912.7,808.5 914.6,809.2 916.5,809.9 918.4,810.7 920.2,811.4 922.1,812.1 924.0,812.8 925.8,813.6 927.7,814.3 929.6,815.0 931.4,815.7 933.3,816.4 935.2,817.2 937.0,817.9 938.9,818.6 940.8,819.3 942.7,820.0 944.5,820.7 946.4,821.4 948.3,822.1 950.2,822.8 952.1,823.4 954.0,824.1 955.8,824.8 957.7,825.5 959.6,826.1 961.5,826.8 963.4,827.4 965.3,828.1 967.2,828.7 969.1,829.4 971.0,830.0 972.9,830.7 974.8,831.3 976.7,831.9 978.6,832.6 980.5,833.2 982.4,833.8 984.3,834.5 986.2,835.1 988.1,835.7 990.0,836.4 991.9,837.0 993.8,837.6 995.7,838.2 997.6,838.9 999.5,839.5 1001.4,840.1 1003.3,840.8 1005.2,841.4 1007.1,842.0 1009.0,842.7 1010.9,843.3 1012.8,843.9 1014.7,844.6 1016.6,845.2 1018.5,845.8 1020.4,846.5 1022.3,847.1 1024.2,847.8 1026.1,848.4 1028.0,849.1 1029.9,849.7 1031.8,850.4 1033.7,851.0 1035.6,851.7 1037.4,852.4 1039.3,853.0 1041.2,853.7 1043.1,854.4 1045.0,855.1 1046.9,855.7 1048.8,856.4 1050.6,857.1 1052.5,857.8 1054.4,858.5 1056.3,859.2 1058.1,859.9 1060.0,860.6 1061.9,861.3 1063.8,862.0 1065.7,862.7 1067.5,863.4 1069.4,864.1 1071.3,864.8 1073.2,865.4 1075.1,866.1 1077.0,866.8 1078.9,867.4 1080.7,868.1 1082.6,868.7 1084.5,869.4 1086.4,870.0 1088.3,870.7 1090.2,871.3 1092.1,872.0 1094.0,872.6 1095.9,873.2 1097.8,873.9 1099.7,874.5 1101.6,875.2 1103.5,875.8 1105.4,876.5 1107.3,877.2 1109.2,877.8 1111.1,878.5 1112.9,879.2 1114.8,879.9 1116.7,880.6 1118.6,881.2 1120.5,881.9 1122.3,882.6 1124.2,883.3 1126.1,884.0 1128.0,884.7 1129.9,885.4 1131.7,886.2 1133.6,886.9 1135.5,887.6 1137.3,888.3 1139.2,889.0 1141.1,889.7 1143.0,890.4 1144.8,891.1 1146.7,891.9 1148.6,892.6 1150.4,893.3 1152.3,894.0 1154.2,894.8 1156.0,895.5 1157.9,896.2 1159.8,897.0 1161.6,897.7 1163.5,898.5 1165.3,899.2 1167.2,899.9 1169.1,900.7 1170.9,901.4 1172.8,902.1 1174.7,902.8 1176.5,903.5 1178.4,904.2 1180.3,904.9 1182.2,905.6 1184.1,906.3 1186.0,906.9 1187.9,907.6 1189.8,908.2 1191.7,908.8 1193.6,909.4 1195.5,909.9 1197.5,910.5 1199.4,911.0 1201.3,911.6 1203.2,912.1 1205.2,912.6 1207.1,913.1 1209.0,913.6 1211.0,914.1 1212.9,914.6 1214.9,915.1 1216.8,915.6 1218.8,916.1 1220.7,916.6 1222.6,917.1 1224.6,917.6 1226.5,918.1 1228.5,918.5 1230.4,919.0 1232.4,919.5 1234.3,919.9 1236.3,920.4 1238.2,920.8 1240.2,921.3 1242.1,921.7 1244.1,922.2 1246.0,922.6 1248.0,923.0 1250.0,923.4 1251.9,923.8 1253.9,924.2 1255.9,924.5 1257.8,924.9 1259.8,925.2 1261.8,925.5 1263.8,925.8 1265.8,926.1 1267.7,926.4 1269.7,926.6 1271.7,926.9 1273.7,927.1 1275.7,927.3 1277.7,927.5 1279.7,927.8 1281.7,928.0 1283.7,928.2 1285.7,928.4 1287.6,928.6 1289.6,928.9 1291.6,929.1 1293.6,929.4 1295.6,929.7 1297.6,929.9 1299.6,930.2 1301.5,930.5 1303.5,930.8 1305.5,931.2 1307.5,931.5 1309.5,931.8 1311.4,932.1 1313.4,932.4 1315.4,932.7 1317.4,933.0 1319.4,933.3 1321.3,933.5 1323.3,933.8 1325.3,934.0 1327.3,934.3 1329.3,934.5 1331.3,934.8 1333.3,935.0 1335.3,935.2 1337.3,935.5 1339.2,935.7 1341.2,935.9 1343.2,936.2 1345.2,936.4 1347.2,936.7 1349.2,936.9 1351.2,937.2 1353.1,937.5 1355.1,937.8 1357.1,938.1 1359.1,938.4 1361.1,938.7 1363.1,939.0 1365.0,939.3 1367.0,939.6 1369.0,939.9 1371.0,940.2 1373.0,940.5 1374.9,940.7 1376.9,941.0 1378.9,941.3 1380.9,941.5 1382.9,941.7 1384.9,942.0 1386.9,942.2 1388.9,942.4 1390.9,942.6 1392.9,942.9 1394.8,943.1 1396.8,943.3 1398.8,943.5 1400.8,943.7 1402.8,943.9 1404.8,944.1 1406.8,944.4 1408.8,944.6 1410.8,944.8 1412.8,945.0 1414.8,945.3 1416.7,945.5 1418.7,945.8 1420.7,946.0 1422.7,946.2 1424.7,946.5 1426.7,946.7 1428.7,947.0 1430.7,947.2 1432.7,947.4 1434.6,947.7 1436.6,947.9 1438.6,948.1 1440.6,948.4 1442.6,948.6 1444.6,948.8 1446.6,949.1 1448.6,949.3 1450.6,949.5 1452.5,949.8 1454.5,950.0 1456.5,950.3 1458.5,950.5 1460.5,950.8 1462.5,951.0 1464.5,951.3 1466.5,951.6 1468.4,951.9 1470.4,952.1 1472.4,952.4 1474.4,952.7 1476.4,953.0 1478.3,953.4 1480.3,953.7 1482.3,954.0 1484.3,954.3 1486.2,954.7 1488.2,955.0 1490.2,955.4 1492.2,955.7 1494.1,956.1 1496.1,956.4 1498.1,956.8 1500.0,957.2 1502.0,957.5 1504.0,957.9 1505.9,958.3 1507.9,958.7 1509.9,959.0 1511.9,959.4 1513.8,959.8 1515.8,960.2 1517.8,960.5 1519.7,960.9 1521.7,961.3 1523.6,961.7 1525.6,962.1 1527.6,962.6 1529.5,963.0 1531.5,963.4 1533.4,963.9 1535.4,964.4 1537.3,964.9 1539.3,965.4 1541.2,965.9 1543.1,966.4 1545.0,967.0 1547.0,967.5 1548.9,968.1 1550.8,968.7 1552.7,969.3 1554.6,969.9 1556.5,970.6 1558.4,971.2 1560.3,971.9 1562.2,972.6 1564.0,973.3 1565.9,974.0 1567.8,974.7 1569.6,975.5 1571.5,976.2 1573.3,977.0 1575.2,977.8 1577.0,978.6 1578.8,979.4 1580.7,980.3 1582.5,981.1 1584.3,982.0 1586.1,982.8 1587.9,983.7 1589.7,984.6 1591.5,985.5 1593.2,986.5 1595.0,987.4 1596.8,988.4 1598.5,989.3 1600.3,990.3 1602.0,991.3 1603.8,992.3 1605.5,993.3 1607.2,994.3 1608.9,995.3 1610.7,996.4 1612.4,997.4 1614.1,998.4 1615.8,999.5 1617.5,1000.5 1619.2,1001.6 1620.9,1002.7 1622.6,1003.7 1624.3,1004.8 1626.0,1005.9 1627.7,1006.9 1629.3,1008.0 1631.0,1009.1 1632.7,1010.2 1634.4,1011.4 1636.0,1012.5 1637.6,1013.6 1639.3,1014.8 1640.9,1016.0 1642.5,1017.2 1644.1,1018.4 1645.7,1019.6 1647.3,1020.8 1648.8,1022.1 1650.3,1023.4 1651.9,1024.7 1653.4,1026.0 1654.9,1027.3 1656.4,1028.7 1657.8,1030.0 1659.3,1031.4 1660.8,1032.8 1662.2,1034.2 1663.6,1035.6 1665.1,1037.0 1666.5,1038.4 1667.9,1039.8 1669.3,1041.2 1670.7,1042.7 1672.1,1044.1 1673.5,1045.6 1674.9,1047.0 1676.3,1048.5 1677.6,1049.9 1679.0,1051.4 1680.4,1052.8 1681.7,1054.3 1683.1,1055.8 1684.4,1057.3 1685.7,1058.8 1687.1,1060.3 1688.4,1061.8 1689.7,1063.3 1691.0,1064.9 1692.3,1066.4 1693.5,1067.9 1694.8,1069.5 1696.0,1071.0 1697.3,1072.6 1698.5,1074.2 1699.8,1075.7 1701.1,1077.3 1702.3,1078.8 1703.6,1080.4 1705.0,1081.9 1706.3,1083.3 1707.7,1084.8 1709.1,1086.2 1710.6,1087.5 1712.1,1088.8 1713.7,1090.1 1715.3,1091.2 1717.0,1092.3 1718.8,1093.3 1720.6,1094.1 1722.5,1094.9 1724.3,1095.6 1726.3,1096.2 1728.2,1096.7 1730.1,1097.1 1732.1,1097.5 1734.1,1097.8 1736.1,1098.1 1738.1,1098.3 1740.1,1098.5 1742.1,1098.7 1744.1,1098.9 1746.0,1099.0 1748.0,1099.1 1750.0,1099.3 1752.0,1099.4 1754.0,1099.6 1756.0,1099.8 1758.0,1099.9 1760.0,1100.1 1762.0,1100.3 1764.0,1100.5 1766.0,1100.7 1768.0,1100.9 1770.0,1101.0 1772.0,1101.2 1774.0,1101.4 1776.0,1101.5 1778.0,1101.6 1780.0,1101.7 1782.0,1101.8 1784.0,1101.9 1786.0,1101.9 1788.0,1102.0 1790.0,1102.0 1792.0,1102.0 1794.0,1102.0 1796.0,1102.0 1798.0,1101.9 1800.0,1101.9 1802.0,1101.9 1804.0,1101.8 1806.0,1101.8 1808.0,1101.8 1810.0,1101.7 1812.0,1101.7 1814.0,1101.7 1816.0,1101.7 1818.0,1101.7 1820.0,1101.7 1822.1,1101.7 1824.1,1101.7 1826.1,1101.7 1828.1,1101.7 1830.1,1101.7 1832.1,1101.7 1834.1,1101.7 1836.1,1101.7 1838.1,1101.8 1840.1,1101.8 1842.1,1101.8 1844.1,1101.8 1846.1,1101.8 1848.1,1101.9 1850.1,1101.9 1852.1,1101.9 1854.1,1101.9 1856.1,1101.9 1858.1,1101.9 1860.1,1101.9 1862.1,1101.8 1864.1,1101.8 1866.1,1101.7 1868.1,1101.6 1870.1,1101.6 1872.1,1101.5 1874.1,1101.4 1876.1,1101.3 1878.1,1101.2 1880.1,1101.1 1882.1,1100.9 1884.1,1100.8 1886.1,1100.7 1888.1,1100.7 1890.1,1100.6 1892.1,1100.5 1894.1,1100.5 1896.1,1100.4 1898.1,1100.4 1900.1,1100.4 1902.1,1100.4 1904.2,1100.4 1906.2,1100.4 1908.2,1100.4 1910.2,1100.4 1912.2,1100.4 1914.2,1100.4 1916.2,1100.4 1918.2,1100.5 1920.2,1100.5 1922.2,1100.5 1924.2,1100.5 1926.2,1100.5 1928.2,1100.5 1930.2,1100.5 1932.2,1100.5 1934.2,1100.5 1936.2,1100.5 1938.2,1100.5 1940.2,1100.5 1942.2,1100.5 1944.2,1100.5 1946.2,1100.5 1948.2,1100.5 1950.2,1100.5 1952.2,1100.5 1954.2,1100.5 1956.2,1100.5 1958.2,1100.5 1960.2,1100.5 1962.2,1100.5 1964.2,1100.5 1966.3,1100.5 1968.3,1100.5 1970.3,1100.5 1972.3,1100.5 1974.3,1100.5 1976.3,1100.5 1978.3,1100.5 1980.3,1100.5 1982.3,1100.5 1984.3,1100.5 1986.3,1100.4 1988.3,1100.4 1990.3,1100.4 1992.3,1100.4 1994.3,1100.5 1996.3,1100.5 1998.3,1100.5 2000.3,1100.6 2002.3,1100.6 2004.3,1100.7 2006.3,1100.8 2008.3,1100.9 2010.3,1100.9 2012.3,1101.0 2014.3,1101.1 2016.3,1101.3 2018.3,1101.4 2020.3,1101.5 2022.3,1101.6 2024.3,1101.7 2026.3,1101.8 2028.3,1101.9 2030.3,1102.1 2032.3,1102.2 2034.3,1102.3 2036.3,1102.4 2038.3,1102.5 2040.3,1102.7 2042.3,1102.8 2044.3,1102.9 2046.3,1103.1 2048.3,1103.2 2050.3,1103.4 2052.3,1103.6 2054.3,1103.8 2056.3,1103.9 2058.3,1104.1 2060.3,1104.3 2062.3,1104.6 2064.3,1104.8 2066.2,1105.0 2068.2,1105.3 2070.2,1105.6 2072.2,1105.9 2074.2,1106.2 2076.2,1106.5 2078.1,1106.8 2080.1,1107.1 2082.1,1107.5 2084.0,1107.9 2086.0,1108.3" fill="none" stroke="#0000ff" stroke-width="4.8" stroke-dasharray="0.00,1.26,5.50,26.55,5.50,28.55,5.50,26.55,5.50,26.55,5.50,26.55,5.50,24.55,5.50,26.55,5.50,24.55,5.50,24.55,5.50,26.55,5.50,24.55,5.50,26.55,5.50,24.55,5.50,26.55,5.50,26.55,5.50,28.55,5.50,26.55,5.50,30.56,5.50,28.55,5.50,28.55,5.50,28.55,5.50,30.56,5.50,28.55,5.50,30.56,5.50,26.55,5.50,18.54,5.50,26.55,5.50,26.55,5.50,24.55,5.50,26.55,5.50,22.55,5.50,26.55,5.50,22.55,5.50,24.55,5.50,14.53,5.50,24.55,5.50,24.55,5.50,24.55,5.50,24.55,5.50,22.55,5.50,26.55,5.50,24.55,5.50,22.55,5.50,14.53,5.50,22.55,5.50,22.55,5.50,22.55,5.50,24.55,5.50,20.54,5.50,22.55,5.50,24.55,5.50,22.55,5.50,14.53,5.50,22.55,5.50,24.55,5.50,24.55,5.50,26.55,5.50,26.55,5.50,30.56,5.50,28.55,5.50,28.55,5.50,22.54,5.50,0.51,5.50,22.55,5.50,22.55,5.50,24.55,5.50,20.54,5.50,22.55,5.50,24.55,5.50,22.55,5.50,20.54,5.50,16.54,5.50,20.54,5.50,24.55,5.50,22.55,5.50,0.00,4.01,10000.00"/>
<text x="188.08 219.55 254.07" y="82.53" transform="scale(0.985,1)" font-family="'Liberation Sans', Arial, Helvetica, sans-serif" font-size="57.5">100</text>
<text x="219.55 254.07" y="323.45" transform="scale(0.985,1)" font-family="'Liberation Sans', Arial, Helvetica, sans-serif" font-size="57.5">95</text>
<text x="219.55 254.07" y="564.37" transform="scale(0.985,1)" font-family="'Liberation Sans', Arial, Helvetica, sans-serif" font-size="57.5">90</text>
<text x="219.55 254.07" y="805.29" transform="scale(0.985,1)" font-family="'Liberation Sans', Arial, Helvetica, sans-serif" font-size="57.5">85</text>
<text x="219.55 254.07" y="1046.21" transform="scale(0.985,1)" font-family="'Liberation Sans', Arial, Helvetica, sans-serif" font-size="57.5">80</text>
<text x="219.55 254.07" y="1287.13" transform="scale(0.985,1)" font-family="'Liberation Sans', Arial, Helvetica, sans-serif" font-size="57.5">75</text>
<text x="394.94 426.41 460.93" y="1461.38" transform="scale(0.985,1)" font-family="'Liberation Sans', Arial, Helvetica, sans-serif" font-size="57.5">100</text>
<text x="603.67 638.19 672.71" y="1461.38" transform="scale(0.985,1)" font-family="'Liberation Sans', Arial, Helvetica, sans-serif" font-size="57.5">200</text>
<text x="814.43 848.95 883.47" y="1461.38" transform="scale(0.985,1)" font-family="'Liberation Sans', Arial, Helvetica, sans-serif" font-size="57.5">300</text>
<text x="1027.84 1062.35 1096.87" y="1461.38" transform="scale(0.985,1)" font-family="'Liberation Sans', Arial, Helvetica, sans-serif" font-size="57.5">400</text>
<text x="1240.22 1274.74 1309.26" y="1461.38" transform="scale(0.985,1)" font-family="'Liberation Sans', Arial, Helvetica, sans-serif" font-size="57.5">500</text>
<text x="1450.68 1485.20 1519.71" y="1461.38" transform="scale(0.985,1)" font-family="'Liberation Sans', Arial, Helvetica, sans-serif" font-size="57.5">600</text>
<text x="1662.45 1696.97 1731.49" y="1461.38" transform="scale(0.985,1)" font-family="'Liberation Sans', Arial, Helvetica, sans-serif" font-size="57.5">700</text>
<text x="1875.04 1909.56 1944.08" y="1461.38" transform="scale(0.985,1)" font-family="'Liberation Sans', Arial, Helvetica, sans-serif" font-size="57.5">800</text>
<text x="2086.41 2120.93 2155.45" y="1461.38" transform="scale(0.985,1)" font-family="'Liberation Sans', Arial, Helvetica, sans-serif" font-size="57.5">900</text>
<text x="948.18 991.71 1032.97 1091.53 1133.29 1173.59 1195.88 1237.01 1258.33 1299.81 1322.27 1360.92 1382.55 1406.89 1435.99 1489.26" y="1562.30" transform="scale(0.98,1)" font-family="'Liberation Sans', Arial, Helvetica, sans-serif" font-size="69.5">Temperature (°C)</text>
<text x="84.51 150.38 189.18 206.05 245.10 284.86 304.59 322.13 347.83 410.47" y="0" transform="translate(92.6,1000.0) rotate(-90)" font-family="'Liberation Sans', Arial, Helvetica, sans-serif" font-size="71">Weight (%)</text>
<text x="1519.14 1573.64" y="152.70" font-family="'Liberation Sans', Arial, Helvetica, sans-serif" font-size="66.3">MK</text>
<text x="1519.14 1573.64 1620.11 1640.27 1683.58 1729.09 1784.11 1828.06 1850.41 1885.91" y="232.40" font-family="'Liberation Sans', Arial, Helvetica, sans-serif" font-size="66.3">MK-PDMS-10</text>
<text x="1519.14 1573.64 1620.11 1640.27 1683.94 1727.14 1771.34 1803.46 1825.71 1861.56" y="312.70" font-family="'Liberation Sans', Arial, Helvetica, sans-serif" font-size="66.3">MK-PVAc-10</text>
<path d="M1357,131 H1507" stroke="#000" stroke-width="4.6"/>
<path d="M1357,210.5 H1505.6" stroke="#ff0000" stroke-width="4.5" stroke-dasharray="23.5 24"/>
<path d="M1357,291 H1505" stroke="#0000ff" stroke-width="4.6" stroke-dasharray="7 21.4"/>
</svg>
</body></html>
